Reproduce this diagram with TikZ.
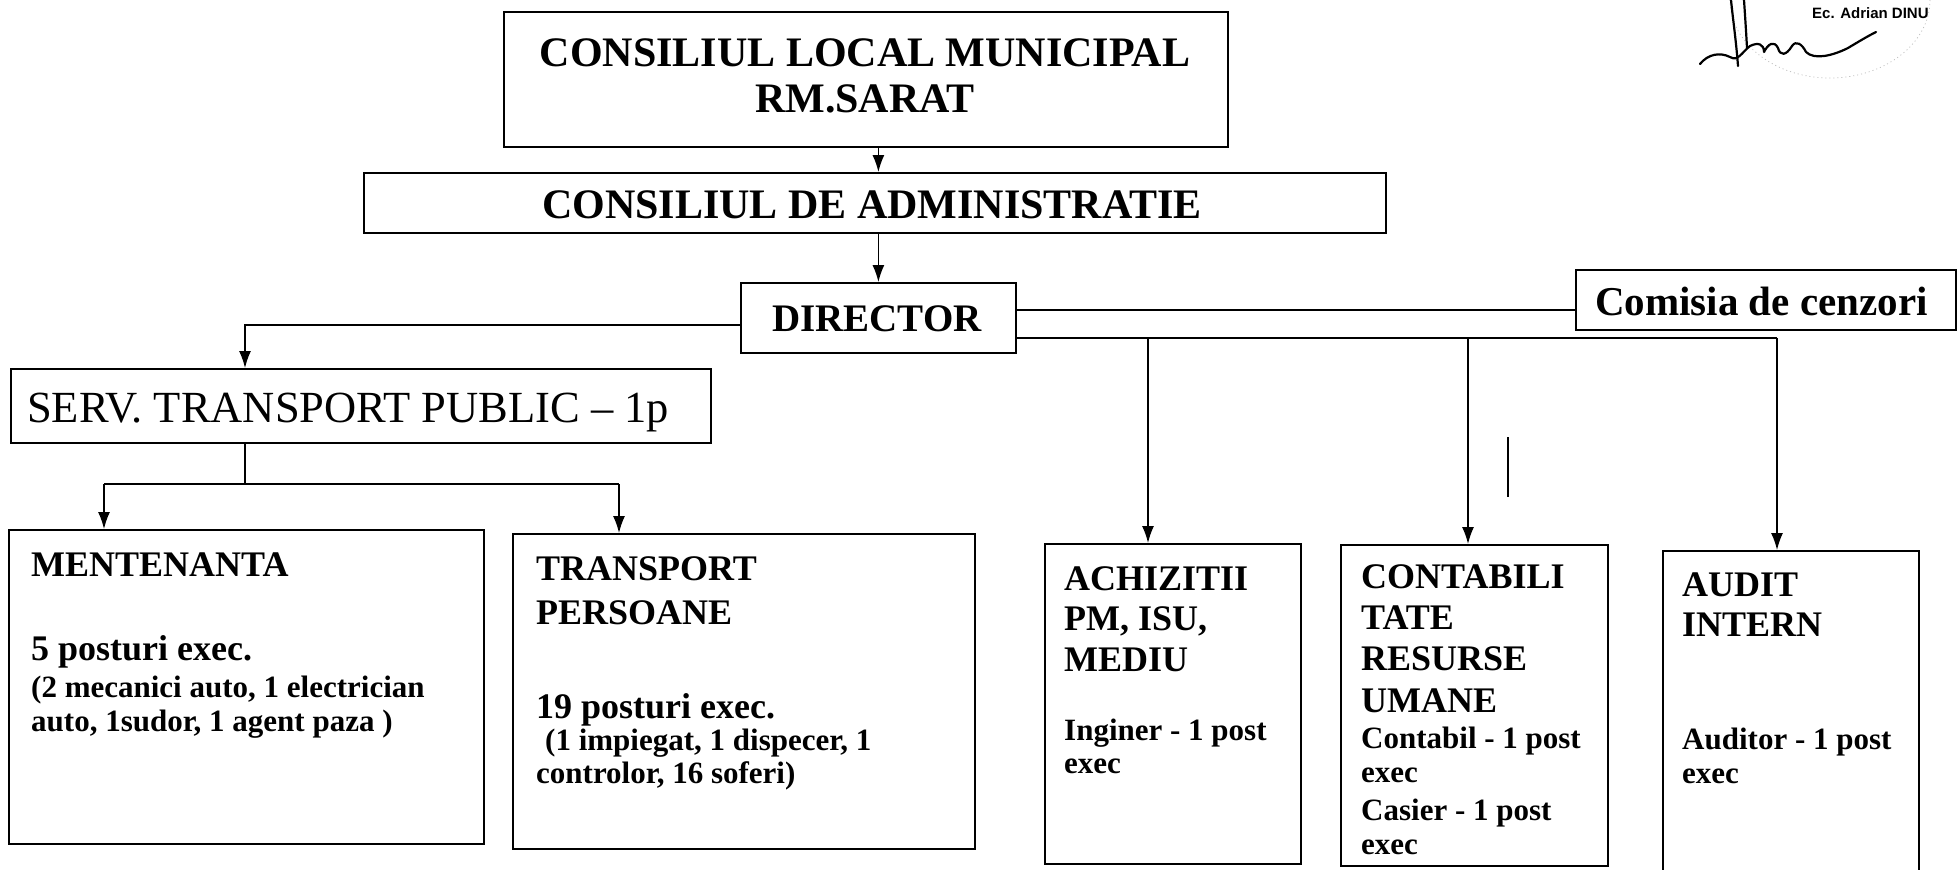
\documentclass[tikz,border=0pt]{standalone}
\usepackage{fontspec}
\setmainfont{Liberation Serif}
\newfontfamily\sigfont{Liberation Sans}
\usetikzlibrary{arrows.meta}
\newcommand\fTop{\fontsize{42}{48}\selectfont\bfseries}
\newcommand\fDir{\fontsize{39}{46}\selectfont\bfseries}
\newcommand\fCom{\fontsize{41}{46}\selectfont\bfseries}
\newcommand\fServ{\fontsize{44.5}{50}\selectfont}
\newcommand\fHead{\fontsize{36}{42}\selectfont\bfseries}
\newcommand\fBody{\fontsize{31}{35}\selectfont\bfseries}
\begin{document}
\begin{tikzpicture}[x=1pt,y=-1pt,
  box/.style={draw, line width=1.8pt, anchor=north west, inner sep=0pt},
  tx/.style={inner sep=0pt, anchor=base west},
  txc/.style={inner sep=0pt, anchor=base},
  conn/.style={line width=1.4pt},
  arr/.style={conn, -{Latex[length=17pt,width=12pt]}},
  stamp/.style={gray!55, line width=0.7pt, dash pattern=on 1pt off 3pt},
  sig/.style={line width=2.2pt, line cap=round, line join=round}]
\useasboundingbox (0,0) rectangle (1957,870);
\clip (0,0) rectangle (1957,870);
\fill[white] (0,0) rectangle (1957,870);

% boxes
\node[box, minimum width=724pt, minimum height=135pt] (b1) at (503,11) {};
\node[box, minimum width=1022pt, minimum height=60pt] (b2) at (363,172) {};
\node[box, minimum width=275pt, minimum height=70pt] (dir) at (740,282) {};
\node[box, minimum width=380pt, minimum height=60pt] (com) at (1575,269) {};
\node[box, minimum width=700pt, minimum height=74pt] (serv) at (10,368) {};
\node[box, minimum width=475pt, minimum height=314pt] (men) at (8,529) {};
\node[box, minimum width=462pt, minimum height=315pt] (tra) at (512,533) {};
\node[box, minimum width=256pt, minimum height=320pt] (ach) at (1044,543) {};
\node[box, minimum width=267pt, minimum height=321pt] (con) at (1340,544) {};
\node[box, minimum width=256pt, minimum height=360pt] (aud) at (1662,550) {};

% texts
\node[txc, font=\fTop] (t1a) at (865,66) {CONSILIUL LOCAL MUNICIPAL};
\node[txc, font=\fTop] (t1b) at (865,112) {RM.SARAT};
\node[txc, font=\fTop] (t2) at (872,218) {CONSILIUL DE ADMINISTRATIE};
\node[txc, font=\fDir] (tdir) at (877,331) {DIRECTOR};
\node[tx, font=\fCom] (tcom) at (1595,315) {Comisia de cenzori};
\node[tx, font=\fServ] (tserv) at (27,422) {SERV. TRANSPORT PUBLIC – 1p};

\node[tx, font=\fHead] (m1) at (31,576) {MENTENANTA};
\node[tx, font=\fHead] (m2) at (31,660) {5 posturi exec.};
\node[tx, font=\fBody] (m3) at (31,697) {(2 mecanici auto, 1 electrician};
\node[tx, font=\fBody] (m4) at (31,731) {auto, 1sudor, 1 agent paza )};

\node[tx, font=\fHead] (r1) at (536,580) {TRANSPORT};
\node[tx, font=\fHead] (r2) at (536,624) {PERSOANE};
\node[tx, font=\fHead] (r3) at (536,718) {19 posturi exec.};
\node[tx, font=\fBody] (r4) at (545,750) {(1 impiegat, 1 dispecer, 1};
\node[tx, font=\fBody] (r5) at (536,783) {controlor, 16 soferi)};

\node[tx, font=\fHead] (a1) at (1064,590) {ACHIZITII};
\node[tx, font=\fHead] (a2) at (1064,630) {PM, ISU,};
\node[tx, font=\fHead] (a3) at (1064,671) {MEDIU};
\node[tx, font=\fBody] (a4) at (1064,740) {Inginer - 1 post};
\node[tx, font=\fBody] (a5) at (1064,773) {exec};

\node[tx, font=\fHead] (c1) at (1361,588) {CONTABILI};
\node[tx, font=\fHead] (c2) at (1361,629) {TATE};
\node[tx, font=\fHead] (c3) at (1361,670) {RESURSE};
\node[tx, font=\fHead] (c4) at (1361,712) {UMANE};
\node[tx, font=\fBody] (c5) at (1361,748) {Contabil - 1 post};
\node[tx, font=\fBody] (c6) at (1361,782) {exec};
\node[tx, font=\fBody] (c7) at (1361,820) {Casier - 1 post};
\node[tx, font=\fBody] (c8) at (1361,854) {exec};

\node[tx, font=\fHead] (u1) at (1682,596) {AUDIT};
\node[tx, font=\fHead] (u2) at (1682,636) {INTERN};
\node[tx, font=\fBody] (u3) at (1682,749) {Auditor - 1 post};
\node[tx, font=\fBody] (u4) at (1682,783) {exec};

% junction columns
\coordinate (xserv) at (245,0);
\coordinate (xmen) at (104,0);
\coordinate (xtra) at (619,0);
\coordinate (xach) at (1148,0);
\coordinate (xcon) at (1468,0);
\coordinate (xaud) at (1777,0);
\coordinate (sbus) at (245,484);
\coordinate (bus) at ([yshift=-20pt]dir.east);

% connectors
\draw[arr] (b1.south -| dir.north) -- (b2.north -| dir.north);
\draw[arr] (b2.south -| dir.north) -- (dir.north);
\draw[arr] ([yshift=-7pt]dir.west) -| (xserv |- serv.north);
\draw[conn] ([yshift=8pt]dir.east) -- ([yshift=8pt]dir.east -| com.west);
\draw[conn] (bus) -- (bus -| xaud);
\draw[arr] (bus -| xach) -- (xach |- ach.north);
\draw[arr] (bus -| xcon) -- (xcon |- con.north);
\draw[arr] (bus -| xaud) -- (xaud |- aud.north);
\draw[conn] (xserv |- serv.south) -- (sbus);
\draw[conn] (sbus -| xmen) -- (sbus -| xtra);
\draw[arr] (sbus -| xmen) -- (xmen |- men.north);
\draw[arr] (sbus -| xtra) -- (xtra |- tra.north);
\draw[conn] (1508,437) -- (1508,497);

% stamp and signature
\draw[stamp] (1830,0) ellipse [x radius=100, y radius=78];
\node[tx, font=\sigfont\bfseries\fontsize{15}{17}\selectfont] (sign) at (1812,19) {Ec. Adrian DINU};
\draw[sig] (1731,0) .. controls (1733,20) and (1736,40) .. (1738,66);
\draw[sig] (1744,0) .. controls (1745,15) and (1746,30) .. (1747,48);
\draw[sig] (1700,64) .. controls (1708,54) and (1720,52) .. (1730,57)
  .. controls (1738,62) and (1742,52) .. (1750,46)
  .. controls (1758,42) and (1764,44) .. (1764,52)
  .. controls (1768,44) and (1774,40) .. (1778,48)
  .. controls (1780,56) and (1786,56) .. (1792,46)
  .. controls (1796,40) and (1802,44) .. (1806,52)
  .. controls (1814,60) and (1832,56) .. (1848,48)
  .. controls (1858,42) and (1868,36) .. (1876,32);
\end{tikzpicture}
\end{document}
